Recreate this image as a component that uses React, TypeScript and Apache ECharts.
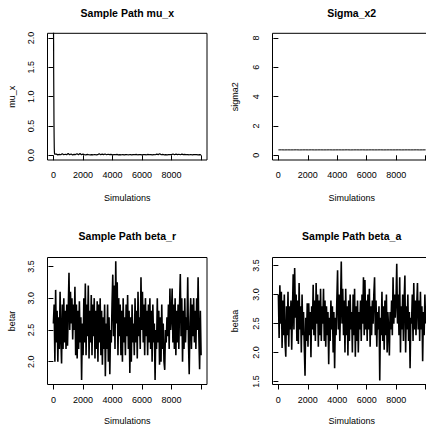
import React, { useEffect, useRef } from "react";
import * as echarts from "echarts";

// Axis ticks
const xTicks = [0, 2000, 4000, 6000, 8000, 10000];
const xTickLabels = [0, 2000, 4000, 6000, 8000];
const muTicks = [0, 0.5, 1, 1.5, 2];
const sigmaTicks = [0, 2, 4, 6, 8];
const betarTicks = [2, 2.5, 3, 3.5];
const betaaTicks = [1.5, 2, 2.5, 3, 3.5];

// Panel titles / axis titles
const titles = ["Sample Path mu_x", "Sigma_x2", "Sample Path beta_r", "Sample Path beta_a"];
const yNames = ["mu_x", "sigma2", "betar", "betaa"];
const xName = "Simulations";

// mu_x sample path (burn-in start, then tail sampled every 100 iterations)
const muEarlyIter = [1, 5, 10, 15, 20, 30, 40, 50, 60, 70, 80, 90];
const muEarly = [2.6, 2.3, 2.05, 1.9, 1.4, 1.0, 0.55, 0.3, 0.12, 0.05, 0.02, 0.01];
const muTailStep = 100;
const muTail = [
  0.012, 0.02, 0.008, 0.015, 0.01, 0.025, 0.009, 0.018, 0.011, 0.03,
  0.01, 0.022, 0.007, 0.016, 0.012, 0.028, 0.01, 0.03, 0.009, 0.02,
  0.012, 0.008, 0.015, 0.01, 0.006, 0.012, 0.009, 0.014, 0.008, 0.011,
  0.025, 0.01, 0.02, 0.012, 0.022, 0.009, 0.018, 0.011, 0.015, 0.008,
  0.012, 0.01, 0.016, 0.007, 0.011, 0.009, 0.013, 0.008, 0.012, 0.01,
  0.009, 0.014, 0.008, 0.012, 0.01, 0.015, 0.009, 0.011, 0.013, 0.008,
  0.01, 0.012, 0.009, 0.015, 0.01, 0.011, 0.008, 0.013, 0.01, 0.02,
  0.012, 0.025, 0.01, 0.015, 0.009, 0.012, 0.008, 0.011, 0.01, 0.012,
  0.022, 0.01, 0.02, 0.012, 0.018, 0.009, 0.02, 0.011, 0.016, 0.01,
  0.012, 0.009, 0.014, 0.008, 0.011, 0.01, 0.012, 0.009, 0.01, 0.008,
];

// sigma2 sample path, 50 points across the run
const sigma2 = [
  0.37, 0.372, 0.368, 0.371, 0.369, 0.37, 0.373, 0.367, 0.37, 0.371,
  0.369, 0.372, 0.368, 0.37, 0.371, 0.369, 0.37, 0.372, 0.368, 0.37,
  0.371, 0.369, 0.37, 0.373, 0.367, 0.37, 0.371, 0.369, 0.372, 0.368,
  0.37, 0.371, 0.369, 0.37, 0.372, 0.368, 0.37, 0.371, 0.369, 0.37,
  0.372, 0.368, 0.37, 0.371, 0.369, 0.37, 0.372, 0.368, 0.37, 0.371,
];

// beta_r sample path, 200 points across 10000 iterations
const betar = [
  2.6, 2.9, 2.0, 3.13, 2.3, 2.8, 2.0, 2.7, 2.2, 3.1,
  2.4, 1.97, 2.9, 2.2, 3.0, 2.3, 2.8, 2.2, 2.9, 2.25,
  2.8, 3.4, 2.5, 3.1, 2.6, 3.0, 2.35, 2.9, 2.5, 3.18,
  2.1, 2.9, 2.05, 2.8, 2.2, 2.95, 2.3, 2.7, 1.71, 2.6,
  2.1, 3.0, 2.3, 3.23, 2.1, 2.9, 2.4, 3.2, 2.05, 2.8,
  2.3, 3.05, 2.1, 2.9, 2.4, 3.0, 2.05, 2.8, 2.2, 2.95,
  2.0, 2.9, 2.3, 3.0, 2.1, 2.8, 1.95, 2.7, 2.2, 2.9,
  1.77, 2.6, 2.2, 2.9, 2.0, 2.7, 1.8, 2.5, 2.3, 2.9,
  3.37, 2.4, 3.2, 2.2, 3.58, 2.6, 3.25, 2.1, 3.0, 2.4,
  2.9, 2.1, 2.8, 2.0, 3.0, 2.3, 2.7, 2.1, 2.9, 2.4,
  3.05, 2.2, 2.8, 1.82, 2.7, 2.0, 2.9, 2.3, 2.6, 2.1,
  3.0, 2.3, 2.8, 2.05, 3.1, 2.4, 2.7, 2.2, 3.33, 2.5,
  3.1, 2.3, 2.9, 2.1, 3.0, 2.4, 2.8, 2.1, 2.9, 2.3,
  3.0, 2.2, 2.8, 2.0, 2.9, 2.3, 2.6, 1.71, 2.5, 2.2,
  3.0, 2.3, 2.8, 1.95, 2.7, 2.0, 2.9, 2.2, 2.6, 2.0,
  1.87, 2.5, 2.3, 2.7, 2.4, 2.9, 2.2, 3.15, 2.5, 2.7,
  3.15, 2.3, 2.9, 2.2, 3.0, 2.1, 2.8, 2.3, 2.9, 2.2,
  2.9, 3.38, 2.4, 3.0, 2.0, 2.8, 2.2, 3.0, 2.3, 2.7,
  2.5, 3.33, 2.3, 1.8, 2.6, 3.0, 2.2, 2.9, 2.4, 3.0,
  2.3, 2.8, 2.2, 3.0, 2.5, 3.33, 2.4, 1.88, 2.8, 2.1,
];

// beta_a sample path, 200 points across 10000 iterations
const betaa = [
  3.0, 2.25, 3.16, 2.5, 3.05, 2.08, 2.9, 2.3, 3.0, 2.2,
  1.93, 2.8, 2.3, 3.05, 2.1, 2.8, 2.4, 2.9, 2.05, 2.7,
  3.35, 2.4, 3.46, 2.6, 3.0, 2.2, 2.9, 2.15, 3.2, 2.4,
  2.8, 2.0, 3.0, 2.3, 2.7, 2.1, 1.6, 2.6, 2.2, 2.85,
  2.1, 2.85, 2.3, 2.7, 1.92, 2.8, 2.4, 3.17, 2.3, 2.9,
  2.2, 3.2, 2.5, 3.0, 2.1, 2.9, 2.3, 3.1, 2.2, 2.8,
  2.5, 3.1, 2.2, 2.9, 2.1, 2.8, 2.3, 2.7, 1.8, 2.6,
  2.2, 2.9, 2.4, 2.8, 2.0, 2.7, 1.73, 2.6, 2.3, 2.9,
  3.42, 2.4, 3.0, 2.2, 2.8, 3.57, 2.5, 3.1, 2.3, 2.9,
  2.0, 3.1, 2.3, 2.8, 1.95, 2.9, 2.2, 3.0, 2.4, 2.7,
  2.0, 3.0, 2.3, 3.1, 1.93, 2.8, 2.2, 2.9, 2.0, 2.7,
  2.4, 2.9, 2.2, 3.0, 2.5, 3.3, 2.3, 3.25, 2.4, 2.9,
  2.2, 3.0, 2.4, 3.1, 2.1, 2.8, 2.3, 2.9, 2.5, 3.0,
  3.3, 2.3, 2.9, 2.1, 2.7, 2.4, 2.8, 1.52, 2.6, 2.3,
  3.05, 2.2, 2.8, 2.05, 2.9, 2.3, 3.0, 2.0, 2.7, 2.4,
  1.95, 2.7, 2.4, 2.9, 2.3, 3.3, 2.5, 3.0, 2.6, 2.9,
  3.53, 2.5, 3.0, 2.3, 3.3, 2.0, 2.8, 2.4, 3.0, 2.2,
  2.9, 3.33, 2.0, 2.8, 2.4, 3.0, 2.2, 2.7, 1.73, 2.6,
  2.5, 3.0, 2.2, 3.2, 2.4, 2.9, 2.3, 2.8, 3.2, 2.4,
  2.9, 2.2, 3.05, 2.4, 2.8, 1.85, 2.7, 2.3, 3.0, 2.5,
];

const N_ITER = 10000;
const FONT = "'Liberation Sans', Arial, Helvetica, sans-serif";

function spread(values: number[]): number[][] {
  const n = values.length;
  return values.map((v, i) => [1 + Math.round((i * (N_ITER - 1)) / (n - 1)), v]);
}

export default function App() {
  const ref = useRef<HTMLDivElement>(null);

  useEffect(() => {
    if (!ref.current) return;
    const chart = echarts.init(ref.current, undefined, { renderer: "svg" });

    const grids = [
      { left: 47.5, right: 219, top: 33.3, bottom: 265 },
      { left: 272.5, right: -5.5, top: 33.3, bottom: 265 },
      { left: 47.5, right: 219, top: 257.5, bottom: 40.5 },
      { left: 272.5, right: -5.5, top: 257.5, bottom: 40.5 },
    ];
    const yRanges = [
      [-0.08, 2.08],
      [-0.32, 8.32],
      [1.64, 3.64],
      [1.45, 3.64],
    ];
    const yTickSets = [muTicks, sigmaTicks, betarTicks, betaaTicks];
    const yFmt = [
      (v: number) => v.toFixed(1),
      (v: number) => String(Math.round(v)),
      (v: number) => v.toFixed(1),
      (v: number) => v.toFixed(1),
    ];

    const muData: number[][] = muEarlyIter.map((it, i) => [it, muEarly[i]]);
    muTail.forEach((v, i) => muData.push([Math.min(N_ITER, (i + 1) * muTailStep), v]));

    const seriesData = [muData, spread(sigma2), spread(betar), spread(betaa)];

    const graphic: any[] = [];
    const titleCenters = [
      [127.3, 13.3],
      [351.7, 13.3],
      [127.3, 236],
      [351.7, 236],
    ];
    const xNamePos = [
      [127.3, 198.3],
      [351.7, 198.3],
      [127.3, 421.3],
      [351.7, 421.3],
    ];
    const yNamePos = [
      [11.7, 96.7],
      [234.7, 96.7],
      [11.7, 321],
      [234.7, 321],
    ];
    for (let i = 0; i < 4; i++) {
      graphic.push({
        type: "text",
        x: titleCenters[i][0],
        y: titleCenters[i][1],
        style: {
          text: titles[i],
          align: "center",
          verticalAlign: "middle",
          textAlign: "center",
          textVerticalAlign: "middle",
          fontSize: 10.5,
          fontWeight: "bold",
          fontFamily: FONT,
          fill: "#000",
        },
      });
      graphic.push({
        type: "text",
        x: xNamePos[i][0],
        y: xNamePos[i][1],
        style: {
          text: xName,
          align: "center",
          verticalAlign: "middle",
          textAlign: "center",
          textVerticalAlign: "middle",
          fontSize: 9,
          fontFamily: FONT,
          fill: "#000",
        },
      });
      graphic.push({
        type: "text",
        x: yNamePos[i][0],
        y: yNamePos[i][1],
        rotation: Math.PI / 2,
        style: {
          text: yNames[i],
          align: "center",
          verticalAlign: "middle",
          textAlign: "center",
          textVerticalAlign: "middle",
          fontSize: 9,
          fontFamily: FONT,
          fill: "#000",
        },
      });
    }

    const option: any = {
      animation: false,
      backgroundColor: "#fff",
      grid: grids.map((g) => ({
        ...g,
        show: true,
        borderColor: "#000",
        borderWidth: 1,
        backgroundColor: "transparent",
        containLabel: false,
        outerBoundsMode: "none",
      })),
      xAxis: grids.map((_, i) => ({
        type: "value",
        gridIndex: i,
        min: -399,
        max: 10400,
        axisLine: { show: false },
        splitLine: { show: false },
        axisTick: {
          show: true,
          inside: false,
          length: 5,
          customValues: xTicks,
          lineStyle: { color: "#000", width: 1 },
        },
        axisLabel: {
          show: true,
          customValues: xTickLabels,
          margin: 10.5,
          fontSize: 9,
          fontFamily: FONT,
          color: "#000",
          formatter: (v: number) => String(v),
          hideOverlap: false,
        },
      })),
      yAxis: grids.map((_, i) => ({
        type: "value",
        gridIndex: i,
        min: yRanges[i][0],
        max: yRanges[i][1],
        axisLine: { show: false },
        splitLine: { show: false },
        axisTick: {
          show: true,
          inside: false,
          length: 5,
          customValues: yTickSets[i],
          lineStyle: { color: "#000", width: 1 },
        },
        axisLabel: {
          show: true,
          customValues: yTickSets[i],
          rotate: 90,
          align: "center",
          verticalAlign: "middle",
          margin: 16.5,
          fontSize: 9,
          fontFamily: FONT,
          color: "#000",
          formatter: yFmt[i],
          hideOverlap: false,
        },
      })),
      series: seriesData.map((d, i) => ({
        type: "line",
        xAxisIndex: i,
        yAxisIndex: i,
        data: d,
        showSymbol: false,
        symbol: "none",
        clip: true,
        lineStyle: { color: "#000", width: i >= 2 ? 1.6 : i === 0 ? 1.2 : 1 },
      })),
      graphic,
    };

    chart.setOption(option);
    return () => {
      chart.dispose();
    };
  }, []);

  return (
    <div
      ref={ref}
      style={{ position: "absolute", left: 0, top: 0, width: 426, height: 425, background: "#fff" }}
    />
  );
}
